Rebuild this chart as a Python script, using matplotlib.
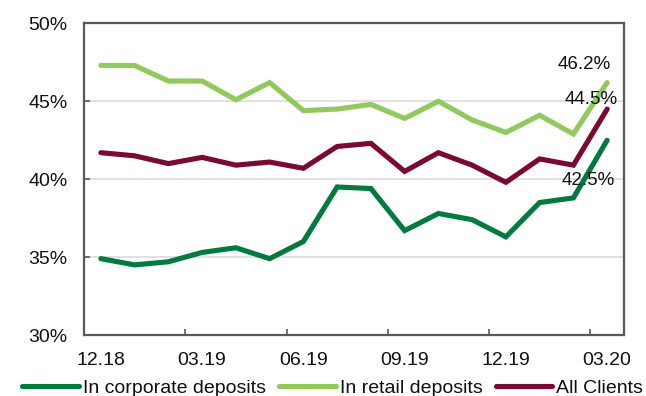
import matplotlib
matplotlib.use("Agg")
import matplotlib.pyplot as plt
from matplotlib.ticker import FixedLocator, FuncFormatter

plt.rcParams['font.family'] = ['Liberation Sans', 'DejaVu Sans']

months = ["12.18", "01.19", "02.19", "03.19", "04.19", "05.19", "06.19", "07.19",
          "08.19", "09.19", "10.19", "11.19", "12.19", "01.20", "02.20", "03.20"]
corporate = [34.9, 34.5, 34.7, 35.3, 35.6, 34.9, 36.0, 39.5,
             39.4, 36.7, 37.8, 37.4, 36.3, 38.5, 38.8, 42.5]
retail = [47.3, 47.3, 46.3, 46.3, 45.1, 46.2, 44.4, 44.5,
          44.8, 43.9, 45.0, 43.8, 43.0, 44.1, 42.9, 46.2]
all_clients = [41.7, 41.5, 41.0, 41.4, 40.9, 41.1, 40.7, 42.1,
               42.3, 40.5, 41.7, 40.9, 39.8, 41.3, 40.9, 44.5]

c_corp = "#007A3D"
c_retail = "#92C95C"
c_all = "#7A0A32"

fig = plt.figure(figsize=(6.46, 3.96), dpi=100)
ax = fig.add_axes([0.130, 0.154, 0.836, 0.787])

x = list(range(len(months)))
lw = 3.7
ax.plot(x, corporate, color=c_corp, lw=lw, solid_capstyle="round",
        solid_joinstyle="miter", label="In corporate deposits", zorder=3)
ax.plot(x, retail, color=c_retail, lw=lw, solid_capstyle="round",
        solid_joinstyle="miter", label="In retail deposits", zorder=3)
ax.plot(x, all_clients, color=c_all, lw=lw, solid_capstyle="round",
        solid_joinstyle="miter", label="All Clients", zorder=3)

ax.set_xlim(-0.5, len(months) - 0.5)
ax.set_ylim(30, 50)

# category labels every third month, tick marks between categories
label_idx = list(range(0, len(months), 3))
ax.xaxis.set_major_locator(FixedLocator(label_idx))
ax.set_xticklabels([months[i] for i in label_idx])
ax.tick_params(axis="x", which="major", length=0, pad=12, labelsize=14,
               labelcolor="#111111")
ax.xaxis.set_minor_locator(FixedLocator([i - 0.5 for i in label_idx[1:]]))
ax.tick_params(axis="x", which="minor", direction="in", length=4.5,
               width=1.2, color="#595959")

ax.yaxis.set_major_locator(FixedLocator([30, 35, 40, 45, 50]))
ax.yaxis.set_major_formatter(FuncFormatter(lambda v, p: f"{v:.0f}%"))
ax.tick_params(axis="y", direction="in", length=4.5, width=1.2,
               color="#595959", pad=12, labelsize=14, labelcolor="#111111")

ax.grid(axis="y", color="#D9D9D9", lw=1.1, zorder=0)
for s in ax.spines.values():
    s.set_color("#595959")
    s.set_linewidth(1.6)

last = len(months) - 1
offsets = [(corporate, (-13.7, -29.0)), (retail, (-16.6, 12.8)),
           (all_clients, (-11.7, 7.2))]
for series, off in offsets:
    ax.annotate(f"{series[last]:.1f}%", (last, series[last]), xytext=off,
                textcoords="offset points", ha="center", va="center",
                fontsize=13.5, color="#111111", zorder=4)

leg = fig.legend(loc="center", bbox_to_anchor=(0.515, 0.02), ncol=3,
                 frameon=False, fontsize=14, handlelength=2.9,
                 handletextpad=0.2, columnspacing=0.7, borderaxespad=0)
for t in leg.get_texts():
    t.set_color("#111111")

fig.savefig("out.png", dpi=100)
